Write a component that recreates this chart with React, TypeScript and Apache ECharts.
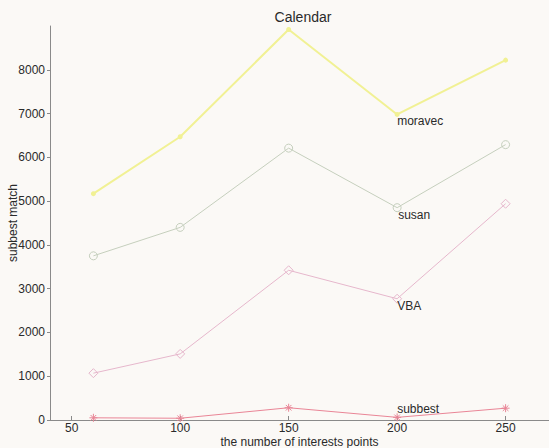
import React, { useEffect, useRef } from "react";
import * as echarts from "echarts";

const xValues = [60, 100, 150, 200, 250];
const moravec = [5170, 6470, 8920, 6980, 8220];
const susan = [3750, 4400, 6210, 4850, 6290];
const vba = [1070, 1510, 3420, 2770, 4940];
const subbest = [50, 40, 280, 60, 270];
const xTicks = [50, 100, 150, 200, 250];
const yTicks = [0, 1000, 2000, 3000, 4000, 5000, 6000, 7000, 8000];
const labelIndex = 3;

const FONT = "Liberation Sans";
const TEXT = "#2a2a2a";
const STAR = "path://M5,0L5,10M0,5L10,5M1.5,1.5L8.5,8.5M1.5,8.5L8.5,1.5";

function makeSeries(
  name: string,
  values: number[],
  color: string,
  symbol: string,
  symbolSize: number,
  width: number,
  filled: boolean,
  labelOffset: number[]
) {
  return {
    type: "line",
    name,
    data: values.map((v, i) => {
      const item: any = { value: [xValues[i], v] };
      if (i === labelIndex) {
        item.label = {
          show: true,
          formatter: name,
          position: "inside",
          align: "left",
          verticalAlign: "middle",
          offset: labelOffset,
          color: TEXT,
          fontFamily: FONT,
          fontSize: 12,
        };
      }
      return item;
    }),
    symbol,
    symbolSize,
    showSymbol: true,
    lineStyle: { color, width },
    itemStyle: filled
      ? { color, borderColor: color, borderWidth: 0 }
      : { color: "rgba(0,0,0,0)", borderColor: color, borderWidth: 1 },
    label: { show: false },
    emphasis: { disabled: true },
    z: 2,
  };
}

export default function App() {
  const ref = useRef<HTMLDivElement>(null);
  useEffect(() => {
    if (!ref.current) return;
    const chart = echarts.init(ref.current, undefined, { renderer: "svg" });
    chart.setOption({
      animation: false,
      backgroundColor: "#fbf9f6",
      title: {
        text: "Calendar",
        left: 298,
        top: 5,
        textAlign: "center",
        textStyle: { fontFamily: FONT, fontSize: 14, fontWeight: "normal", color: TEXT },
      },
      grid: {
        left: 50,
        top: 26,
        width: 499,
        height: 394,
        containLabel: false,
        outerBoundsMode: "none",
      },
      xAxis: {
        type: "value",
        min: 40,
        max: 270,
        name: "the number of interests points",
        nameLocation: "middle",
        nameGap: 16,
        nameMoveOverlap: false,
        nameTextStyle: { fontFamily: FONT, fontSize: 12, color: TEXT },
        axisLine: { show: true, lineStyle: { color: "#8a8a8a", width: 1 } },
        axisTick: { show: true, inside: true, length: 4, customValues: xTicks, lineStyle: { color: "#8a8a8a" } },
        axisLabel: {
          customValues: xTicks,
          margin: 2,
          fontFamily: FONT,
          fontSize: 12,
          color: TEXT,
          formatter: (v: number) => String(v),
        },
        splitLine: { show: false },
      },
      yAxis: {
        type: "value",
        min: 0,
        max: 9000,
        name: "subbest match",
        nameLocation: "middle",
        nameGap: 31,
        nameMoveOverlap: false,
        nameTextStyle: { fontFamily: FONT, fontSize: 12, color: TEXT },
        axisLine: { show: true, lineStyle: { color: "#8a8a8a", width: 1 } },
        axisTick: { show: true, inside: false, length: 3, customValues: yTicks, lineStyle: { color: "#8a8a8a" } },
        axisLabel: {
          customValues: yTicks,
          margin: 5,
          fontFamily: FONT,
          fontSize: 12,
          color: TEXT,
          formatter: (v: number) => String(v),
        },
        splitLine: { show: false },
      },
      series: [
        makeSeries("moravec", moravec, "#f1f194", "circle", 5, 2, true, [0, 7]),
        makeSeries("susan", susan, "#c5cfbd", "circle", 8, 1, false, [1, 7]),
        makeSeries("VBA", vba, "#e6b7cc", "diamond", 9, 1, false, [0, 7]),
        makeSeries("subbest", subbest, "#e98596", STAR, 8, 1, false, [0, -8]),
      ],
    });
    return () => chart.dispose();
  }, []);
  return (
    <div
      ref={ref}
      style={{ position: "fixed", left: 0, top: 0, width: 549, height: 448 }}
    />
  );
}
